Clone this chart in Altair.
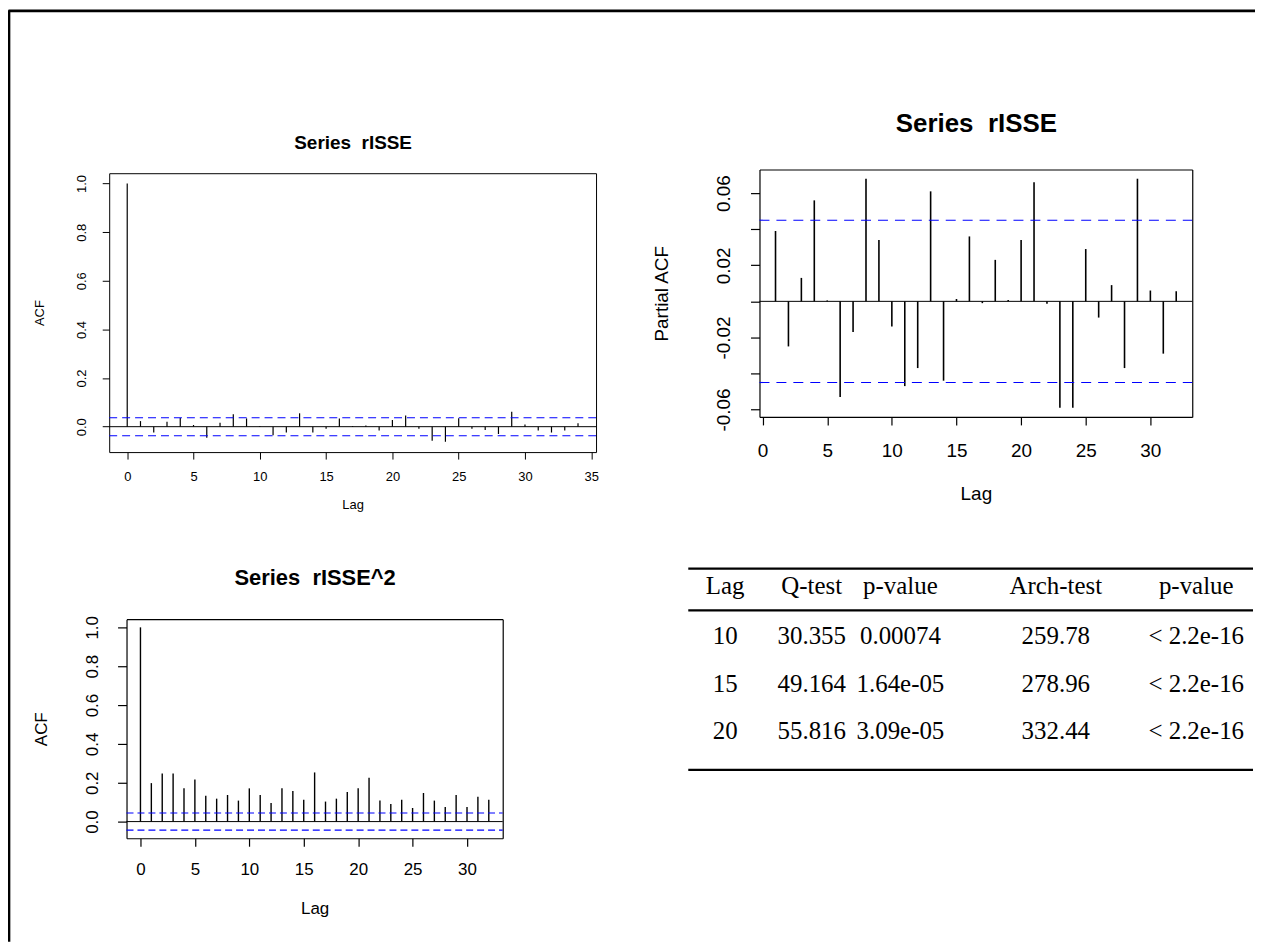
import altair as alt
import pandas as pd

# ---------------- data ----------------
acf1_lags = list(range(0, 35))
acf1_vals = [1.0, 0.023, -0.024, 0.020, 0.036, 0.007, -0.046, 0.016, 0.051, 0.034,
             0.003, -0.035, -0.024, 0.055, -0.024, -0.008, 0.034, 0.003, 0.005, -0.016,
             0.027, 0.046, -0.008, -0.058, -0.062, 0.035, -0.008, -0.014, -0.030, 0.061,
             0.009, -0.016, -0.024, -0.016, 0.014]
acf1_ci = 0.037

pacf_lags = list(range(1, 33))
pacf_vals = [0.039, -0.025, 0.013, 0.056, 0.0005, -0.053, -0.017, 0.068, 0.034, -0.014,
             -0.047, -0.037, 0.061, -0.044, 0.0013, 0.036, -0.001, 0.023, 0.0007, 0.034,
             0.066, -0.0013, -0.059, -0.059, 0.029, -0.009, 0.009, -0.037, 0.068, 0.006,
             -0.029, 0.0056]
pacf_ci = 0.045

acf2_lags = list(range(0, 33))
acf2_vals = [1.0, 0.198, 0.248, 0.248, 0.171, 0.217, 0.133, 0.118, 0.137, 0.108,
             0.171, 0.137, 0.096, 0.171, 0.157, 0.113, 0.253, 0.103, 0.118, 0.152,
             0.171, 0.226, 0.108, 0.091, 0.113, 0.070, 0.147, 0.108, 0.075, 0.137,
             0.075, 0.128, 0.113]
acf2_ci = 0.044

table_header = ["Lag", "Q-test", "p-value", "Arch-test", "p-value"]
table_lag = ["10", "15", "20"]
table_q = ["30.355", "49.164", "55.816"]
table_pq = ["0.00074", "1.64e-05", "3.09e-05"]
table_arch = ["259.78", "278.96", "332.44"]
table_parch = ["< 2.2e-16", "< 2.2e-16", "< 2.2e-16"]

# ---------------- layout ----------------
W, H = 1252, 935
SANS = "Liberation Sans"
SERIF = "Liberation Serif"


def panel(lags, vals, ci, xdom, xrng, ydom, yrng, xticks, yticks, ylabel_expr,
          title, ylab, f_tick, f_lab, f_title, tick_x, tick_y, pad_x, pad_y,
          title_y, lag_y, ylab_x, spike_w, dash, box_w):
    xs = alt.Scale(domain=xdom, range=xrng, nice=False, zero=False)
    ys = alt.Scale(domain=ydom, range=yrng, nice=False, zero=False)
    x_left, x_right = xrng
    y_bot, y_top = yrng
    xc = (x_left + x_right) / 2
    yc = (y_bot + y_top) / 2

    spikes_df = pd.DataFrame({"lag": lags, "val": vals})
    spikes = alt.Chart(spikes_df).mark_rule(color="black", strokeWidth=spike_w).encode(
        x=alt.X("lag:Q", scale=xs, axis=alt.Axis(
            orient="bottom", offset=y_bot - H, values=xticks, format="d",
            tickSize=tick_x, tickColor="black", tickWidth=box_w,
            labelPadding=pad_x, labelFontSize=f_tick, labelFont=SANS, labelColor="black",
            labelFlush=False, labelOverlap=False, labelAngle=0,
            domainColor="black", domainWidth=box_w, grid=False,
            title="Lag", titleFont=SANS, titleFontSize=f_lab, titleFontWeight="normal",
            titleColor="black", titleX=xc, titleY=lag_y, titleBaseline="middle",
            titleAlign="center", titleAngle=0)),
        y=alt.Y("val:Q", scale=ys, axis=alt.Axis(
            orient="left", offset=-x_left, values=yticks, labelExpr=ylabel_expr,
            tickSize=tick_y, tickColor="black", tickWidth=box_w,
            labelPadding=pad_y, labelFontSize=f_tick, labelFont=SANS, labelColor="black",
            labelFlush=False, labelOverlap=False, labelAngle=270,
            labelAlign="center", labelBaseline="bottom",
            domainColor="black", domainWidth=box_w, grid=False,
            title=ylab, titleFont=SANS, titleFontSize=f_lab, titleFontWeight="normal",
            titleColor="black", titleX=ylab_x, titleY=yc, titleBaseline="middle",
            titleAlign="center", titleAngle=270)),
        y2=alt.datum(0),
    )

    base_df = pd.DataFrame({"x0": [xdom[0]], "x1": [xdom[1]], "y": [0.0]})
    zero = alt.Chart(base_df).mark_rule(color="black", strokeWidth=1).encode(
        x=alt.X("x0:Q", scale=xs, axis=alt.Axis(
            orient="top", offset=-y_top, labels=False, ticks=False,
            domainColor="black", domainWidth=box_w, grid=False,
            title=title, titleFont=SANS, titleFontSize=f_title, titleFontWeight="bold",
            titleColor="black", titleX=xc, titleY=title_y, titleBaseline="middle",
            titleAlign="center", titleAngle=0)),
        x2="x1:Q",
        y=alt.Y("y:Q", scale=ys, axis=alt.Axis(
            orient="right", offset=x_right - W, labels=False, ticks=False,
            domainColor="black", domainWidth=box_w, grid=False, title="")),
    )

    ci_df = pd.DataFrame({"x0": [xdom[0]] * 2, "x1": [xdom[1]] * 2, "y": [ci, -ci]})
    cil = alt.Chart(ci_df).mark_rule(color="#0000ff", strokeWidth=1.1, strokeDash=dash).encode(
        x=alt.X("x0:Q", scale=xs, axis=None),
        x2="x1:Q",
        y=alt.Y("y:Q", scale=ys, axis=None),
    )
    return alt.layer(spikes, zero, cil).resolve_axis(x="independent", y="independent")


lab1 = "format(datum.value, '.1f')"
lab2 = ("(abs(datum.value) > 0.05 || (abs(datum.value) > 0.01 && abs(datum.value) < 0.03)) ? "
        "((datum.value < 0 ? '-' : '') + format(abs(datum.value), '.2f')) : ''")

p1 = panel(acf1_lags, acf1_vals, acf1_ci,
           xdom=[-1.36, 35.36], xrng=[101.6, 590.4],
           ydom=[-0.1045, 1.0425], yrng=[444, 164],
           xticks=list(range(0, 36, 5)), yticks=[0, 0.2, 0.4, 0.6, 0.8, 1.0],
           ylabel_expr=lab1, title="Series\u00a0 rISSE", ylab="ACF",
           f_tick=13, f_lab=13, f_title=19, tick_x=7, tick_y=7, pad_x=11.1, pad_y=14.2,
           title_y=-30.6, lag_y=52.8, ylab_x=-69.6, spike_w=1.2, dash=[8, 5], box_w=1)

p2 = panel(pacf_lags, pacf_vals, pacf_ci,
           xdom=[-0.24, 33.24], xrng=[754.5, 1189],
           ydom=[-0.0641, 0.0731], yrng=[408.7, 160.3],
           xticks=list(range(0, 31, 5)),
           yticks=[-0.06, -0.04, -0.02, 0, 0.02, 0.04, 0.06],
           ylabel_expr=lab2, title="Series\u00a0 rISSE", ylab="Partial ACF",
           f_tick=19, f_lab=19, f_title=26, tick_x=8, tick_y=9, pad_x=17.1, pad_y=16.7,
           title_y=-46.6, lag_y=77.4, ylab_x=-98.5, spike_w=1.6, dash=[10, 7], box_w=1.2)

p3 = panel(acf2_lags, acf2_vals, acf2_ci,
           xdom=[-1.28, 33.28], xrng=[119, 496.7],
           ydom=[-0.0858, 1.0418], yrng=[831.7, 611.8],
           xticks=list(range(0, 31, 5)), yticks=[0, 0.2, 0.4, 0.6, 0.8, 1.0],
           ylabel_expr=lab1, title="Series\u00a0 rISSE^2", ylab="ACF",
           f_tick=17, f_lab=17, f_title=22, tick_x=8, tick_y=9, pad_x=15.7, pad_y=15.8,
           title_y=-41.8, lag_y=70.3, ylab_x=-85, spike_w=1.4, dash=[7, 4], box_w=1.2)

# ---------------- table ----------------
rows = []
for c, h in enumerate(table_header):
    rows.append({"col": c, "row": 0, "txt": h})
body_cols = [table_lag, table_q, table_pq, table_arch, table_parch]
for c, colvals in enumerate(body_cols):
    for r, v in enumerate(colvals):
        rows.append({"col": c, "row": r + 1, "txt": v})
table_df = pd.DataFrame(rows)

tx = alt.Scale(domain=[-0.5, 0, 1, 2, 3, 4, 4.5],
               range=[683, 720, 807, 896, 1052, 1193, 1250], nice=False, zero=False)
ty = alt.Scale(domain=[-0.5, 0, 0.5, 1, 2, 3, 3.5],
               range=[561, 578, 603, 629, 677, 724, 763], nice=False, zero=False)

table_text = alt.Chart(table_df).mark_text(
    font=SERIF, fontSize=25, color="black", align="center", baseline="middle"
).encode(
    x=alt.X("col:Q", scale=tx, axis=None),
    y=alt.Y("row:Q", scale=ty, axis=None),
    text="txt:N",
)

lines_df = pd.DataFrame({"x0": [-0.5] * 3, "x1": [4.5] * 3, "y": [-0.5, 0.5, 3.5]})
table_lines = alt.Chart(lines_df).mark_rule(color="black", strokeWidth=2.2).encode(
    x=alt.X("x0:Q", scale=tx, axis=None),
    x2="x1:Q",
    y=alt.Y("y:Q", scale=ty, axis=None),
)
table = alt.layer(table_lines, table_text)

# ---------------- page frame (left & top edges) ----------------
frame_df = pd.DataFrame({"fx": [0.0], "fy": [0.0]})
frame = alt.Chart(frame_df).mark_point(opacity=0).encode(
    x=alt.X("fx:Q", scale=alt.Scale(domain=[0, 1], range=[0, W]), axis=alt.Axis(
        orient="top", offset=-0.5, labels=False, ticks=False, grid=False,
        domainColor="black", domainWidth=2.7, title="")),
    y=alt.Y("fy:Q", scale=alt.Scale(domain=[0, 1], range=[0, H]), axis=alt.Axis(
        orient="left", offset=-0.5, labels=False, ticks=False, grid=False,
        domainColor="black", domainWidth=2.7, title="")),
)

chart = alt.layer(frame, p1, p2, p3, table).resolve_scale(
    x="independent", y="independent"
).properties(
    width=W, height=H, padding=0, autosize=alt.AutoSizeParams(type="none")
).configure_view(strokeOpacity=0)

chart.save("out.html", embed_options={"renderer": "svg", "actions": False})
